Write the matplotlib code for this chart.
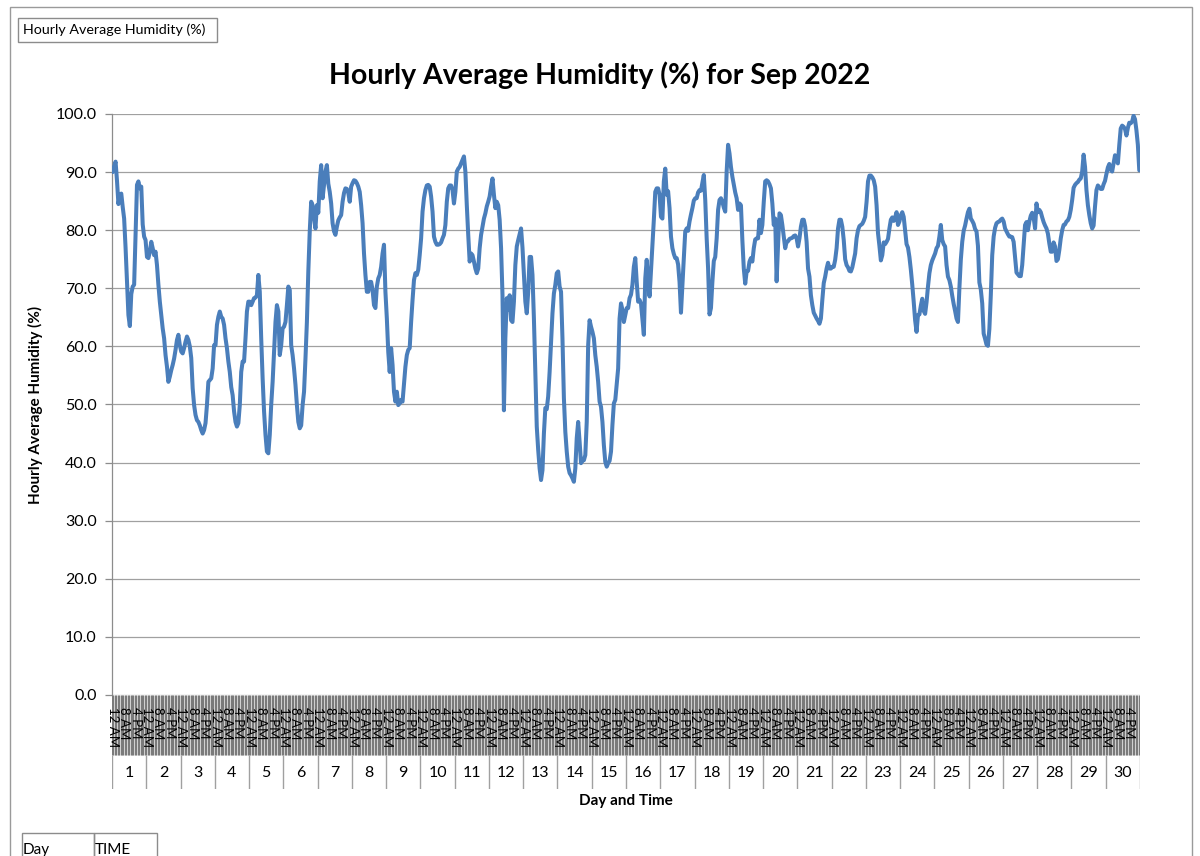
import numpy as np
import matplotlib
matplotlib.use("Agg")
import matplotlib.pyplot as plt
from matplotlib.patches import Rectangle

plt.rcParams['font.family'] = ['Lato', 'DejaVu Sans']

# ---- data: hourly average humidity (%) per day, 24 values each (12 AM .. 11 PM)
d01 = [90.0, 91.0, 91.8, 88.5, 84.5, 86.0, 86.3, 84.0, 82.0, 77.0, 71.0, 65.4, 63.5, 69.0, 70.3, 70.6, 79.0, 87.8, 88.4, 87.2, 87.5, 81.0, 78.9, 78.3]
d02 = [75.4, 75.2, 76.3, 78.0, 76.9, 75.7, 76.3, 74.0, 70.6, 67.7, 65.4, 63.1, 61.4, 58.5, 56.5, 53.9, 54.8, 55.9, 56.8, 57.9, 59.4, 61.1, 62.0, 60.2]
d03 = [59.1, 58.8, 59.7, 60.8, 61.7, 61.1, 60.0, 58.0, 52.8, 49.9, 48.2, 47.3, 47.0, 46.4, 45.6, 45.0, 45.6, 46.8, 49.9, 53.9, 54.2, 54.5, 56.2, 60.2]
d04 = [60.2, 63.7, 65.1, 66.0, 65.1, 64.8, 63.7, 61.4, 59.7, 57.4, 55.6, 53.0, 51.6, 48.8, 47.0, 46.2, 46.8, 49.9, 55.6, 57.4, 57.4, 61.4, 66.0, 67.7]
d05 = [67.7, 67.1, 67.7, 68.3, 68.4, 68.8, 72.3, 69.4, 61.4, 54.5, 48.8, 44.8, 41.9, 41.6, 44.8, 49.9, 53.9, 59.1, 64.2, 67.1, 66.0, 58.5, 60.2, 63.1]
d06 = [63.4, 64.2, 67.1, 70.3, 69.7, 60.2, 58.5, 56.2, 53.4, 49.9, 47.0, 45.9, 46.4, 49.9, 52.2, 57.9, 64.2, 72.9, 79.8, 84.9, 84.3, 82.1, 80.3, 84.3]
d07 = [83.0, 88.4, 91.2, 85.5, 87.8, 90.1, 91.2, 88.0, 86.6, 84.6, 81.2, 79.8, 79.2, 80.6, 81.7, 82.2, 82.6, 84.9, 86.4, 87.2, 87.1, 86.4, 84.9, 87.5]
d08 = [88.1, 88.6, 88.5, 88.1, 87.5, 86.6, 84.3, 81.2, 76.0, 72.3, 69.4, 69.4, 71.1, 71.1, 69.7, 67.1, 66.6, 70.3, 71.7, 72.3, 73.7, 76.0, 77.5, 69.4]
d09 = [64.8, 59.0, 55.6, 59.7, 56.8, 52.2, 50.5, 52.2, 49.9, 50.2, 50.8, 50.5, 53.4, 56.5, 58.5, 59.4, 59.7, 64.2, 68.0, 71.4, 72.6, 72.3, 73.2, 75.7]
d10 = [78.6, 83.2, 85.5, 86.9, 87.7, 87.8, 87.5, 85.8, 83.2, 78.9, 78.0, 77.5, 77.5, 77.6, 77.9, 78.6, 79.2, 80.9, 84.9, 87.2, 87.7, 87.7, 86.9, 84.6]
d11 = [86.6, 90.1, 90.6, 90.9, 91.5, 92.1, 92.7, 90.1, 84.3, 79.2, 74.6, 76.0, 75.7, 74.6, 73.4, 72.6, 73.4, 76.9, 79.2, 80.6, 82.0, 82.9, 84.1, 84.9]
d12 = [85.8, 87.5, 88.9, 86.1, 83.8, 84.9, 84.3, 81.8, 76.9, 68.8, 49.0, 61.4, 68.3, 66.3, 68.8, 64.5, 64.2, 67.7, 74.0, 77.2, 78.3, 79.3, 80.3, 77.0]
d13 = [72.3, 67.7, 65.7, 69.4, 75.4, 75.4, 72.3, 64.8, 55.6, 46.2, 42.2, 39.0, 37.0, 38.7, 45.0, 49.4, 49.2, 51.4, 55.6, 60.5, 65.7, 69.1, 70.6, 72.6]
d14 = [72.9, 70.3, 69.4, 61.4, 51.1, 45.3, 41.9, 39.3, 38.2, 37.8, 37.3, 36.7, 39.0, 44.2, 47.0, 43.6, 39.9, 40.4, 40.4, 41.3, 47.0, 60.2, 64.5, 63.4]
d15 = [62.5, 61.4, 58.5, 56.5, 53.9, 50.5, 49.6, 47.0, 43.0, 40.1, 39.3, 39.9, 40.3, 41.9, 46.5, 50.2, 50.8, 53.4, 56.2, 64.8, 67.4, 66.3, 64.2, 65.4]
d16 = [66.6, 66.6, 68.3, 68.9, 70.6, 73.7, 75.2, 71.1, 67.7, 68.0, 67.4, 64.8, 62.0, 71.7, 74.9, 71.1, 68.6, 72.9, 77.5, 81.8, 86.6, 87.2, 87.2, 86.1]
d17 = [82.3, 82.0, 88.4, 90.6, 86.1, 86.7, 83.8, 78.9, 76.9, 75.9, 75.2, 75.2, 74.1, 71.1, 65.8, 70.6, 75.2, 79.8, 80.3, 79.9, 81.5, 82.7, 83.8, 85.1]
d18 = [85.5, 85.5, 86.5, 86.9, 86.8, 88.1, 89.5, 85.2, 78.6, 73.4, 65.5, 66.6, 71.1, 74.7, 75.4, 78.6, 83.5, 85.2, 85.5, 84.9, 83.9, 83.2, 90.1, 94.7]
d19 = [93.2, 90.9, 89.2, 87.8, 86.5, 85.5, 83.5, 84.6, 84.3, 78.3, 73.4, 70.8, 72.9, 73.0, 74.6, 75.2, 74.6, 76.9, 78.4, 78.6, 78.6, 81.8, 79.5, 80.9]
d20 = [84.9, 88.4, 88.6, 88.4, 87.9, 87.2, 84.6, 80.9, 82.0, 71.2, 77.5, 82.9, 82.6, 80.9, 78.9, 76.9, 78.0, 78.1, 78.5, 78.6, 78.7, 79.0, 79.1, 78.6]
d21 = [77.2, 78.6, 80.6, 81.8, 81.8, 80.6, 78.0, 73.4, 72.0, 68.8, 67.1, 65.8, 65.3, 64.8, 64.4, 63.9, 64.8, 68.0, 70.9, 72.0, 73.4, 74.4, 73.4, 73.4]
d22 = [73.7, 73.7, 74.9, 76.9, 80.3, 81.8, 81.8, 80.6, 78.3, 75.0, 74.0, 73.6, 73.0, 72.9, 73.6, 74.8, 76.0, 78.6, 80.0, 80.7, 80.9, 81.1, 81.6, 82.3]
d23 = [84.9, 88.4, 89.4, 89.4, 89.1, 88.6, 87.5, 84.3, 79.5, 77.3, 74.8, 75.7, 77.9, 77.6, 78.0, 78.5, 80.3, 81.8, 82.2, 81.6, 82.2, 83.1, 80.9, 81.5]
d24 = [82.6, 83.1, 82.3, 80.0, 77.6, 77.0, 75.4, 73.2, 70.6, 67.7, 64.5, 62.5, 65.4, 65.5, 67.0, 68.2, 66.1, 65.6, 67.6, 70.3, 72.6, 74.0, 74.8, 75.4]
d25 = [76.0, 76.9, 77.3, 78.9, 80.9, 78.3, 77.6, 77.2, 74.0, 72.0, 71.4, 70.3, 68.7, 67.3, 66.1, 64.8, 64.2, 70.0, 74.9, 78.0, 79.9, 80.8, 82.0, 83.1]
d26 = [83.7, 82.0, 81.6, 81.1, 80.2, 79.8, 77.3, 71.0, 69.8, 67.4, 62.2, 61.3, 60.3, 60.1, 63.0, 68.8, 75.7, 78.9, 80.4, 81.2, 81.4, 81.5, 81.8, 82.0]
d27 = [81.5, 80.3, 79.8, 79.3, 78.9, 78.9, 78.8, 78.0, 75.4, 72.7, 72.4, 72.1, 72.1, 74.0, 77.5, 80.9, 81.4, 80.0, 81.5, 82.5, 83.0, 82.2, 80.3, 84.6]
d28 = [83.1, 83.5, 83.1, 82.2, 81.4, 80.8, 80.3, 79.4, 77.7, 76.3, 76.3, 77.9, 77.2, 74.7, 75.0, 76.6, 78.6, 80.0, 80.9, 81.0, 81.5, 81.7, 82.3, 83.5]
d29 = [85.2, 87.3, 87.8, 88.1, 88.3, 88.7, 88.9, 90.1, 93.0, 90.9, 86.9, 84.3, 82.6, 81.2, 80.3, 80.8, 84.1, 86.9, 87.7, 87.4, 87.1, 87.1, 87.9, 88.5]
d30 = [89.7, 90.8, 91.4, 90.4, 90.1, 91.5, 92.9, 92.5, 91.5, 94.7, 97.5, 98.0, 97.8, 97.4, 96.3, 97.6, 98.5, 98.4, 98.7, 99.7, 99.1, 97.2, 94.7, 90.3]

days = [str(d) for d in range(1, 31)]
time_labels = ["12 AM", "8 AM", "4 PM"]
time_label_hours = [0, 8, 16]
y_ticks = [0, 10, 20, 30, 40, 50, 60, 70, 80, 90, 100]

title = "Hourly Average Humidity (%) for Sep 2022"
y_title = "Hourly Average Humidity (%)"
x_title = "Day and Time"

all_days = [d01, d02, d03, d04, d05, d06, d07, d08, d09, d10, d11, d12, d13, d14, d15,
            d16, d17, d18, d19, d20, d21, d22, d23, d24, d25, d26, d27, d28, d29, d30]
humidity = np.concatenate([np.array(d, dtype=float) for d in all_days])
n = len(humidity)
hours_per_day = 24

W, H = 1200, 856
fig = plt.figure(figsize=(W / 100, H / 100), dpi=100)
fig.patch.set_facecolor('white')

def fx(px):
    return px / W

def fy(py):
    return 1 - py / H

# outer chart border
fig.add_artist(Rectangle((fx(10), fy(870)), fx(1192) - fx(10), fy(7) - fy(870),
                         transform=fig.transFigure, fill=False, edgecolor='#9a9a9a', lw=1.0))

# pivot field button top-left
fig.add_artist(Rectangle((fx(18), fy(42)), fx(217) - fx(18), fy(18) - fy(42),
                         transform=fig.transFigure, fill=False, edgecolor='#8c8c8c', lw=1.0))
fig.text(fx(23), fy(30), y_title, ha='left', va='center', fontsize=10.3, color='black')

# pivot field buttons bottom-left
fig.add_artist(Rectangle((fx(22), fy(870)), fx(94) - fx(22), fy(833) - fy(870),
                         transform=fig.transFigure, fill=False, edgecolor='#8c8c8c', lw=1.0))
fig.add_artist(Rectangle((fx(94), fy(870)), fx(157) - fx(94), fy(833) - fy(870),
                         transform=fig.transFigure, fill=False, edgecolor='#8c8c8c', lw=1.0))
fig.text(fx(23), fy(850), "Day", ha='left', va='center', fontsize=11, color='black')
fig.text(fx(95), fy(850), "TIME", ha='left', va='center', fontsize=11, color='black')

# title
fig.text(fx(600), fy(75), title, ha='center', va='center', fontsize=20.5, fontweight='bold')

# main plot axes
L, R, T, B = 112, 1140, 114, 695
ax = fig.add_axes([fx(L), fy(B), fx(R) - fx(L), fy(T) - fy(B)])
x = np.arange(n) + 0.5
ax.plot(x, humidity, color='#4a7ebb', lw=2.9, solid_joinstyle='round', solid_capstyle='round', zorder=3)
ax.set_xlim(0, n)
ax.set_ylim(0, 100)
ax.set_yticks(y_ticks)
ax.set_yticklabels([f"{v:.1f}" for v in y_ticks], fontsize=11.5)
ax.set_xticks([])
ax.grid(axis='y', color='#a0a0a0', lw=0.9)
ax.set_axisbelow(True)
for s in ['top', 'right', 'bottom']:
    ax.spines[s].set_visible(False)
ax.spines['left'].set_color('#8c8c8c')
ax.spines['left'].set_linewidth(0.9)
ax.tick_params(axis='y', direction='out', length=5, width=0.9, color='#8c8c8c', pad=6)
ax.set_ylabel(y_title, fontsize=11, fontweight='bold')
ax.yaxis.set_label_coords(-0.067, 0.5)

# category axis area (inner: time, outer: day)
AB = 789
ax2 = fig.add_axes([fx(L), fy(AB), fx(R) - fx(L), fy(B) - fy(AB)])
ax2.set_xlim(0, n)
ax2.set_ylim(AB - B, 0)
ax2.axis('off')
inner_h = 60
ax2.vlines(np.arange(0, n + 1), 0, inner_h, color='#7a7a7a', lw=1.0)
ax2.vlines(np.arange(0, n + 1, hours_per_day), inner_h, AB - B, color='#a0a0a0', lw=1.0)
for di in range(len(days)):
    for lab, hh in zip(time_labels, time_label_hours):
        ax2.text(di * hours_per_day + hh + 0.5, 12, lab, rotation=270, ha='center', va='top',
                 fontsize=9.5, color='black')
    ax2.text(di * hours_per_day + hours_per_day / 2, 78, days[di], ha='center', va='center',
             fontsize=11.5, color='black')

fig.text(fx(626), fy(801), x_title, ha='center', va='center', fontsize=11, fontweight='bold')

fig.savefig("out.png", dpi=100, facecolor='white')
